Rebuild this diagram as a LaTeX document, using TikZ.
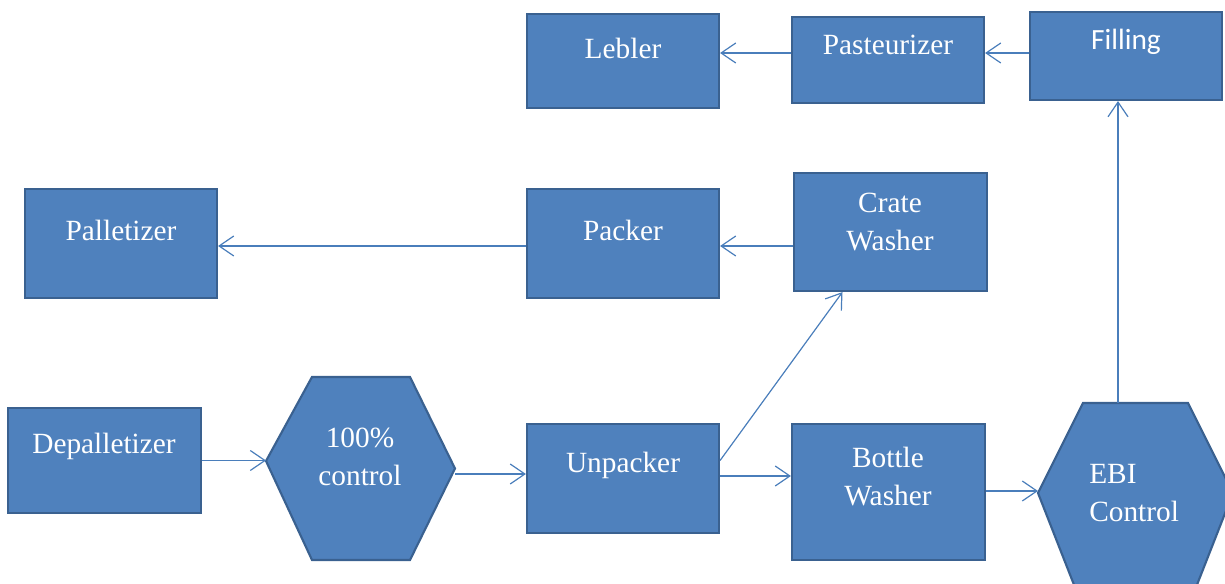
\documentclass[tikz,border=0pt]{standalone}
\usepackage{fontspec}
\setmainfont{Liberation Serif}
\newfontfamily\calibrifont{Carlito}
\usetikzlibrary{arrows.meta,calc}
\definecolor{boxfill}{HTML}{4F81BD}
\definecolor{boxedge}{HTML}{3A6190}
\definecolor{flowline}{HTML}{4A7EBB}
% one drawing unit is one pixel of a 1225 x 584 canvas
\tikzset{
  px/.style={x=0.75pt,y=-0.75pt},
  box/.style={draw=boxedge, line width=1.6pt, fill=boxfill, inner sep=0pt},
  frame/.style={inner sep=0pt, outer sep=0pt},
  hexshape/.style={draw=boxedge, line width=1.6pt, fill=boxfill, line join=miter},
  txt/.style={text=white, align=center, inner sep=0pt, font=\fontsize{22}{28.5}\selectfont},
  flow/.style={draw=flowline, line width=0.9pt, -{Straight Barb[length=11pt,width=15pt]}}
}
\begin{document}
\begin{tikzpicture}[px]
\useasboundingbox (0,0) rectangle (1225,584);
\clip (0,0) rectangle (1225,584);

% rectangular stations (sizes in pt = pixels x 0.75)
\node[box, minimum width=144pt, minimum height=70.5pt] (leb) at (623,61) {};
\node[box, minimum width=144pt, minimum height=64.5pt] (past) at (888,60) {};
\node[box, minimum width=144pt, minimum height=66pt] (fill) at (1126,56) {};
\node[box, minimum width=144pt, minimum height=81.75pt] (pal) at (121,243.5) {};
\node[box, minimum width=144pt, minimum height=81.75pt] (pack) at (623,243.5) {};
\node[box, minimum width=144.75pt, minimum height=88.5pt] (crate) at (890.5,232) {};
\node[box, minimum width=144.75pt, minimum height=78.75pt] (depal) at (104.5,460.5) {};
\node[box, minimum width=144pt, minimum height=81.75pt] (unp) at (623,478.5) {};
\node[box, minimum width=144.75pt, minimum height=102pt] (bw) at (888.5,492) {};

% hexagonal control stations
\node[frame, minimum width=141.75pt, minimum height=137.25pt] (hexa) at (360.5,468.5) {};
\draw[hexshape] ($(hexa.west)+(0,-7.5)$) -- ($(hexa.north west)+(46,0)$) -- ($(hexa.north east)+(-45,0)$)
  -- (hexa.east) -- ($(hexa.south east)+(-45,0)$) -- ($(hexa.south west)+(46,0)$) -- cycle;
\node[frame, minimum width=146.25pt, minimum height=135pt] (ebi) at (1135.5,493) {};
\draw[hexshape] (ebi.west) -- ($(ebi.north west)+(45,0)$) -- ($(ebi.north east)+(-45,0)$)
  -- (ebi.east) -- ($(ebi.south east)+(-40,12)$) -- ($(ebi.south west)+(40,12)$) -- cycle;

% labels
\node[txt] (leb-t) at (623,48) {Lebler};
\node[txt] (past-t) at (888,45) {Pasteurizer};
\node[txt, font=\calibrifont\fontsize{22}{28.5}\selectfont] (fill-t) at (1126,42) {Filling};
\node[txt] (pal-t) at (121,230) {Palletizer};
\node[txt] (pack-t) at (623,230) {Packer};
\node[txt] (crate-t) at (890,222) {Crate\\Washer};
\node[txt] (depal-t) at (104,446) {Depalletizer};
\node[txt] (hexa-t) at (360,457) {100\%\\control};
\node[txt] (unp-t) at (623,465) {Unpacker};
\node[txt] (bw-t) at (888,477) {Bottle\\Washer};
\node[txt, anchor=west, align=left] (ebi-t) at (1089,493) {EBI\\Control};

% material flow
\draw[flow] ($(fill.west)+(0,-3)$) -- ($(past.east)+(0,-7)$);
\draw[flow] ($(past.west)+(0,-7)$) -- ($(leb.east)+(0,-8)$);
\draw[flow] ($(crate.west)+(0,14)$) -- ($(pack.east)+(0,2.5)$);
\draw[flow] ($(pack.west)+(0,2.5)$) -- ($(pal.east)+(0,2.5)$);
\draw[flow] (depal.east) -- ($(hexa.west)+(0,-8)$);
\draw[flow] ($(hexa.east)+(0,5.5)$) -- ($(unp.west)+(0,-4.5)$);
\draw[flow] ($(unp.east)+(0,-18)$) -- ($(crate.south)+(-48,0)$);
\draw[flow] ($(unp.east)+(0,-2.5)$) -- ($(bw.west)+(0,-16)$);
\draw[flow] ($(bw.east)+(0,-1)$) -- ($(ebi.west)+(0,-2)$);
\draw[flow] ($(ebi.north)+(-17.5,0)$) -- ($(fill.south)+(-8,0)$);
\end{tikzpicture}
\end{document}
